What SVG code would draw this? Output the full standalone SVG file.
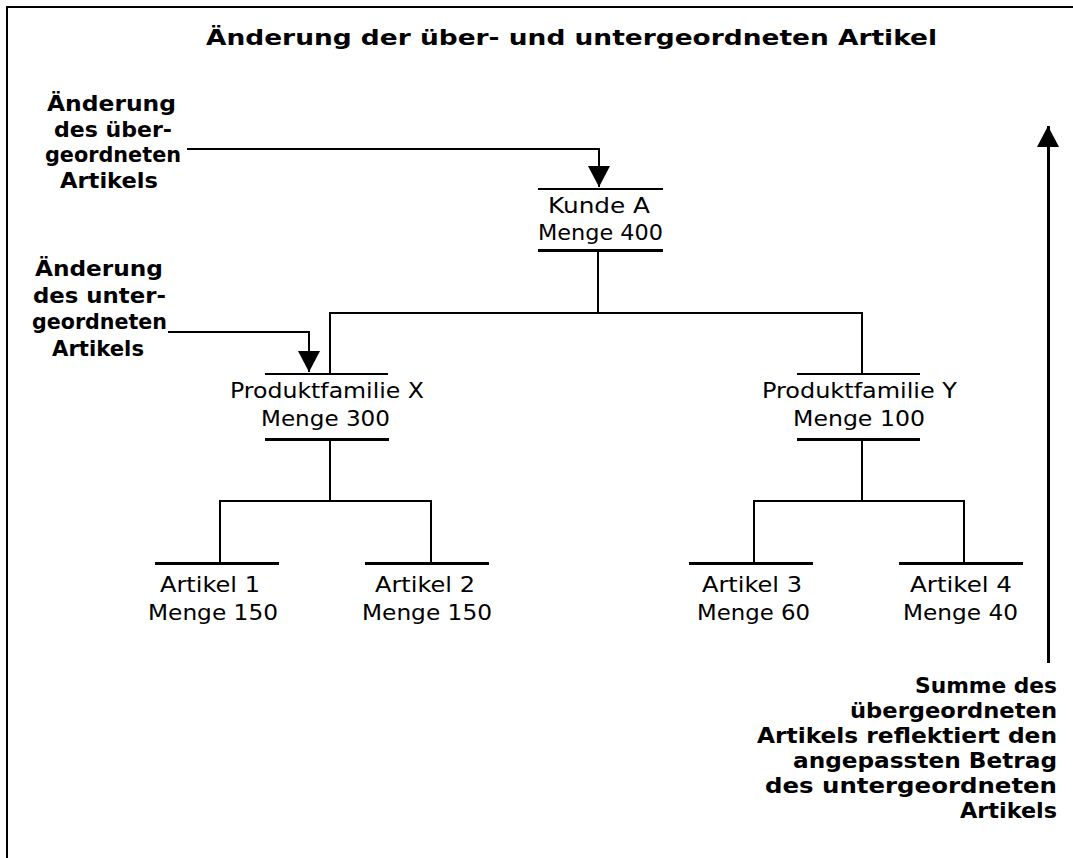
<svg xmlns="http://www.w3.org/2000/svg" width="1073" height="858" viewBox="0 0 1073 858">
  <style>
    .frame { stroke: #000; stroke-width: 2; fill: none; }
    .conn { stroke: #000; stroke-width: 2; fill: none; }
    .bar-top { stroke: #000; stroke-width: 2; }
    .bar-bot { stroke: #000; stroke-width: 3; }
    .bar-leaf { stroke: #000; stroke-width: 3; }
    .big { stroke: #000; stroke-width: 3; fill: none; }
    line, path { shape-rendering: crispEdges; }
    text { fill: #000; }
    .lbl { font-family: "DejaVu Sans", "Liberation Sans", sans-serif; font-size: 22px; }
    .note { font-family: "DejaVu Sans", "Liberation Sans", sans-serif; font-size: 21px; font-weight: bold; }
    .head { font-family: "DejaVu Sans", "Liberation Sans", sans-serif; font-size: 22px; font-weight: bold; }
  </style>
  <defs>
    <marker id="head" markerUnits="userSpaceOnUse" markerWidth="22" markerHeight="22" refX="21" refY="11" orient="auto" viewBox="0 0 22 22">
      <path d="M0,0 L21,11 L0,22 Z" fill="#000" style="shape-rendering:auto"/>
    </marker>
  </defs>

  <rect width="1073" height="858" fill="#fff"/>

  <!-- outer frame (top and left edges) -->
  <path class="frame" d="M7,858 V7 H1073"/>

  <!-- heading -->
  <text class="head" x="206" y="45" textLength="731" lengthAdjust="spacingAndGlyphs">Änderung der über- und untergeordneten Artikel</text>

  <!-- connectors -->
  <g id="connectors">
    <path class="conn" d="M598,250 V313"/>
    <path class="conn" d="M330,374 V313 H862 V374"/>
    <path class="conn" d="M330,439 V501"/>
    <path class="conn" d="M220,563 V501 H431 V563"/>
    <path class="conn" d="M862,439 V501"/>
    <path class="conn" d="M754,563 V501 H964 V563"/>
    <path class="conn" d="M187,149 H599 V187" marker-end="url(#head)"/>
    <path class="conn" d="M168,332 H309 V372" marker-end="url(#head)"/>
    <path class="big" d="M1048,663 V126" marker-end="url(#head)"/>
  </g>

  <!-- side notes -->
  <g id="note-parent">
    <text class="note" x="47" y="111" textLength="129" lengthAdjust="spacingAndGlyphs">Änderung</text>
    <text class="note" x="54" y="137" textLength="118" lengthAdjust="spacingAndGlyphs">des über-</text>
    <text class="note" x="45" y="162" textLength="136" lengthAdjust="spacingAndGlyphs">geordneten</text>
    <text class="note" x="60" y="188" textLength="98" lengthAdjust="spacingAndGlyphs">Artikels</text>
  </g>
  <g id="note-child">
    <text class="note" x="35" y="276" textLength="128" lengthAdjust="spacingAndGlyphs">Änderung</text>
    <text class="note" x="33" y="303" textLength="133" lengthAdjust="spacingAndGlyphs">des unter-</text>
    <text class="note" x="32" y="329" textLength="135" lengthAdjust="spacingAndGlyphs">geordneten</text>
    <text class="note" x="52" y="356" textLength="92" lengthAdjust="spacingAndGlyphs">Artikels</text>
  </g>
  <g id="note-sum">
    <text class="note" x="915" y="693" textLength="142" lengthAdjust="spacingAndGlyphs">Summe des</text>
    <text class="note" x="850" y="718" textLength="207" lengthAdjust="spacingAndGlyphs">übergeordneten</text>
    <text class="note" x="757" y="743" textLength="300" lengthAdjust="spacingAndGlyphs">Artikels reflektiert den</text>
    <text class="note" x="793" y="768" textLength="264" lengthAdjust="spacingAndGlyphs">angepassten Betrag</text>
    <text class="note" x="765" y="793" textLength="292" lengthAdjust="spacingAndGlyphs">des untergeordneten</text>
    <text class="note" x="960" y="818" textLength="97" lengthAdjust="spacingAndGlyphs">Artikels</text>
  </g>

  <!-- hierarchy nodes -->
  <g id="kunde-a">
    <line class="bar-top" x1="538" y1="189" x2="663" y2="189"/>
    <text class="lbl" x="548" y="213" textLength="102" lengthAdjust="spacingAndGlyphs">Kunde A</text>
    <text class="lbl" x="538" y="240" textLength="125" lengthAdjust="spacingAndGlyphs">Menge 400</text>
    <line class="bar-bot" x1="538" y1="250" x2="663" y2="250"/>
  </g>
  <g id="produktfamilie-x">
    <line class="bar-top" x1="265" y1="374" x2="388" y2="374"/>
    <text class="lbl" x="230" y="398" textLength="194" lengthAdjust="spacingAndGlyphs">Produktfamilie X</text>
    <text class="lbl" x="261" y="426" textLength="129" lengthAdjust="spacingAndGlyphs">Menge 300</text>
    <line class="bar-bot" x1="265" y1="439" x2="389" y2="439"/>
  </g>
  <g id="produktfamilie-y">
    <line class="bar-top" x1="797" y1="374" x2="920" y2="374"/>
    <text class="lbl" x="762" y="398" textLength="195" lengthAdjust="spacingAndGlyphs">Produktfamilie Y</text>
    <text class="lbl" x="793" y="426" textLength="132" lengthAdjust="spacingAndGlyphs">Menge 100</text>
    <line class="bar-bot" x1="797" y1="439" x2="920" y2="439"/>
  </g>
  <g id="artikel-1">
    <line class="bar-leaf" x1="155" y1="563" x2="279" y2="563"/>
    <text class="lbl" x="160" y="592" textLength="100" lengthAdjust="spacingAndGlyphs">Artikel 1</text>
    <text class="lbl" x="148" y="620" textLength="130" lengthAdjust="spacingAndGlyphs">Menge 150</text>
  </g>
  <g id="artikel-2">
    <line class="bar-leaf" x1="365" y1="563" x2="489" y2="563"/>
    <text class="lbl" x="375" y="592" textLength="100" lengthAdjust="spacingAndGlyphs">Artikel 2</text>
    <text class="lbl" x="362" y="620" textLength="130" lengthAdjust="spacingAndGlyphs">Menge 150</text>
  </g>
  <g id="artikel-3">
    <line class="bar-leaf" x1="689" y1="563" x2="813" y2="563"/>
    <text class="lbl" x="702" y="592" textLength="100" lengthAdjust="spacingAndGlyphs">Artikel 3</text>
    <text class="lbl" x="697" y="620" textLength="113" lengthAdjust="spacingAndGlyphs">Menge 60</text>
  </g>
  <g id="artikel-4">
    <line class="bar-leaf" x1="899" y1="563" x2="1023" y2="563"/>
    <text class="lbl" x="910" y="592" textLength="102" lengthAdjust="spacingAndGlyphs">Artikel 4</text>
    <text class="lbl" x="903" y="620" textLength="115" lengthAdjust="spacingAndGlyphs">Menge 40</text>
  </g>
</svg>
